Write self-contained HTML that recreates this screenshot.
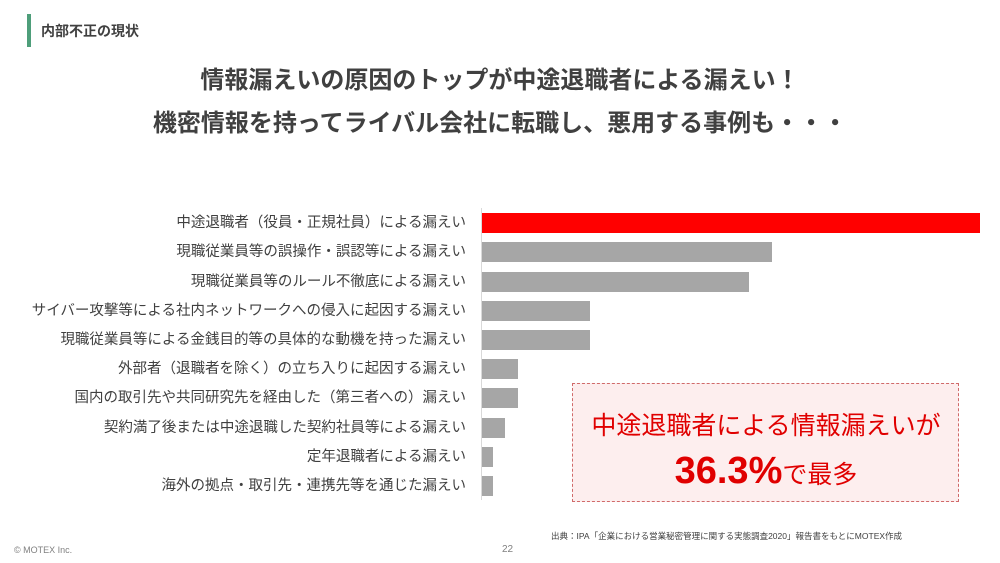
<!DOCTYPE html>
<html><head><meta charset="utf-8"><style>
body{margin:0;width:1000px;height:563px;background:#fff;position:relative;overflow:hidden;font-family:"Liberation Sans","Noto Sans CJK JP",sans-serif;}
.a{position:absolute;white-space:nowrap;}
.lbl{position:absolute;right:534px;font-size:14.5px;color:#404040;line-height:20px;}
.bar{position:absolute;left:482px;height:20px;background:#a6a6a6;}
</style></head><body>
<div class="a" style="left:27px;top:14px;width:4px;height:33px;background:#4e9e7a"></div>
<div class="a" style="left:41px;top:21px;font-size:14px;font-weight:bold;color:#404040">内部不正の現状</div>
<div class="a" style="left:0;width:1000px;text-align:center;top:59px;font-size:24px;font-weight:bold;color:#404040;line-height:43px">情報漏えいの原因のトップが中途退職者による漏えい！<br>機密情報を持ってライバル会社に転職し、悪用する事例も・・・</div>
<div class="a" style="left:481px;top:208px;width:1px;height:292px;background:#d9d9d9"></div>
<div class="lbl" style="top:213px">中途退職者（役員・正規社員）による漏えい</div>
<div class="lbl" style="top:242px">現職従業員等の誤操作・誤認等による漏えい</div>
<div class="lbl" style="top:272px">現職従業員等のルール不徹底による漏えい</div>
<div class="lbl" style="top:301px">サイバー攻撃等による社内ネットワークへの侵入に起因する漏えい</div>
<div class="lbl" style="top:330px">現職従業員等による金銭目的等の具体的な動機を持った漏えい</div>
<div class="lbl" style="top:359px">外部者（退職者を除く）の立ち入りに起因する漏えい</div>
<div class="lbl" style="top:388px">国内の取引先や共同研究先を経由した（第三者への）漏えい</div>
<div class="lbl" style="top:418px">契約満了後または中途退職した契約社員等による漏えい</div>
<div class="lbl" style="top:447px">定年退職者による漏えい</div>
<div class="lbl" style="top:476px">海外の拠点・取引先・連携先等を通じた漏えい</div>
<div class="bar" style="top:213px;width:498px;background:#ff0000"></div>
<div class="bar" style="top:242px;width:290px"></div>
<div class="bar" style="top:272px;width:267px"></div>
<div class="bar" style="top:301px;width:108px"></div>
<div class="bar" style="top:330px;width:108px"></div>
<div class="bar" style="top:359px;width:36px"></div>
<div class="bar" style="top:388px;width:36px"></div>
<div class="bar" style="top:418px;width:23px"></div>
<div class="bar" style="top:447px;width:11px"></div>
<div class="bar" style="top:476px;width:11px"></div>
<div class="a" style="left:572px;top:383px;width:385px;height:117px;border:1.5px dashed #d06a6a;background:#fdeeee"></div>
<div class="a" style="left:572px;width:388px;text-align:center;top:406px;font-size:25px;color:#e00000">中途退職者による情報漏えいが</div>
<div class="a" style="left:572px;width:388px;text-align:center;top:450px;color:#e00000;font-weight:bold"><span style="font-size:38px">36.3%</span><span style="font-size:25px;font-weight:normal">で最多</span></div>
<div class="a" style="left:551px;top:530px;font-size:8.5px;color:#404040">出典：IPA「企業における営業秘密管理に関する実態調査2020」報告書をもとにMOTEX作成</div>
<div class="a" style="left:502px;top:544px;font-size:10px;color:#808080">22</div>
<div class="a" style="left:14px;top:545px;font-size:9px;color:#808080">© MOTEX Inc.</div>
</body></html>
